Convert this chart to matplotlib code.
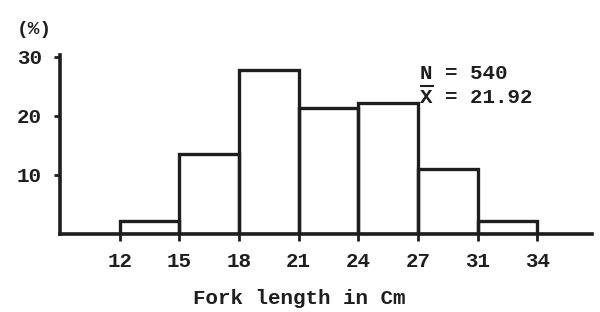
import matplotlib.pyplot as plt
from matplotlib.lines import Line2D

# Fork length classes (cm) and percentage frequency
bin_edges = ['12', '15', '18', '21', '24', '27', '31', '34']
percent = [2.2, 13.6, 27.8, 21.4, 22.2, 11.0, 2.2]
y_ticks = [10, 20, 30]

ink = '#1e1e1e'
font = 'Liberation Mono'

fig = plt.figure(figsize=(6, 3.12), dpi=100)
ax = fig.add_axes([0.1, 0.25, 0.887, 0.573])

# classes drawn with equal width, as in the original figure
positions = list(range(len(percent)))
ax.bar(positions, percent, width=1, align='edge', fill=False,
       edgecolor=ink, linewidth=2.4)

ax.set_xlim(-1, 7.92)
ax.set_ylim(0, 30.3)
ax.set_xticks(range(len(bin_edges)))
ax.set_xticklabels(bin_edges)
ax.set_yticks(y_ticks)

for side in ['top', 'right']:
    ax.spines[side].set_visible(False)
for side in ['left', 'bottom']:
    ax.spines[side].set_linewidth(2.6)
    ax.spines[side].set_color(ink)

ax.tick_params(axis='x', direction='out', length=5, width=2, color=ink, pad=8)
ax.tick_params(axis='y', direction='out', length=4, width=2, color=ink, pad=9)
for lbl in ax.get_xticklabels() + ax.get_yticklabels():
    lbl.set_fontfamily(font)
    lbl.set_fontweight('bold')
    lbl.set_fontsize(15)
    lbl.set_color(ink)

ax.set_xlabel('Fork length in Cm', fontfamily=font, fontweight='bold',
              fontsize=15, color=ink)
ax.xaxis.set_label_coords(0.45, -0.31)

fig.text(0.028, 0.904, '(%)', fontfamily=font, fontweight='bold',
         fontsize=14, color=ink, va='center')

# sample size and mean
fig.text(0.70, 0.763, 'N = 540', fontfamily=font, fontweight='bold',
         fontsize=15, color=ink, va='center')
fig.text(0.70, 0.686, 'X = 21.92', fontfamily=font, fontweight='bold',
         fontsize=15, color=ink, va='center')
fig.add_artist(Line2D([0.701, 0.722], [0.724, 0.724], color=ink, linewidth=1.5))

fig.savefig('out.png', dpi=100)
